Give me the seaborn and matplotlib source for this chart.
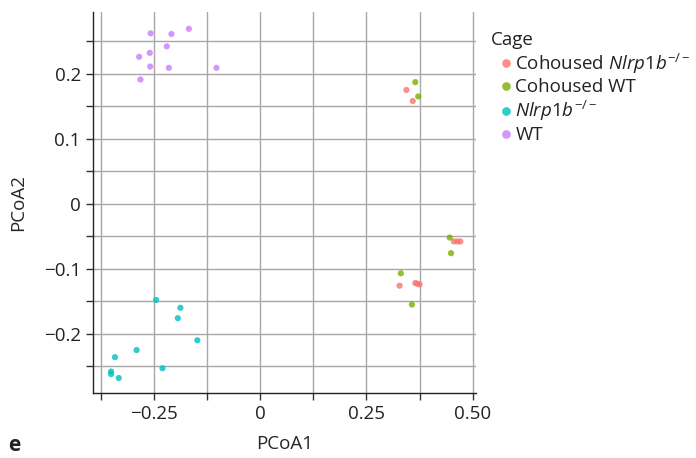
import numpy as np
import pandas as pd
import matplotlib
matplotlib.use("Agg")
import matplotlib.pyplot as plt
import seaborn as sns

# datos (PCoA)
wt_x = [-0.258, -0.209, -0.168, -0.220, -0.260, -0.285, -0.259, -0.215, -0.103, -0.282]
wt_y = [0.262, 0.261, 0.269, 0.242, 0.232, 0.226, 0.211, 0.209, 0.209, 0.191]

ko_x = [-0.245, -0.188, -0.194, -0.148, -0.291, -0.342, -0.351, -0.351, -0.333, -0.230]
ko_y = [-0.148, -0.160, -0.176, -0.210, -0.225, -0.236, -0.258, -0.262, -0.268, -0.253]

co_wt_x = [0.365, 0.372, 0.446, 0.449, 0.331, 0.357]
co_wt_y = [0.187, 0.165, -0.052, -0.076, -0.107, -0.155]

co_ko_x = [0.344, 0.359, 0.456, 0.464, 0.471, 0.328, 0.365, 0.370, 0.375]
co_ko_y = [0.175, 0.158, -0.058, -0.058, -0.058, -0.126, -0.122, -0.123, -0.124]

lab_co_ko = r"Cohoused $\mathit{Nlrp1b}^{\mathit{-/-}}$"
lab_co_wt = "Cohoused WT"
lab_ko = r"$\mathit{Nlrp1b}^{\mathit{-/-}}$"
lab_wt = "WT"
cage_order = [lab_co_ko, lab_co_wt, lab_ko, lab_wt]
colores = ["#F8766D", "#7CAE00", "#00BFC4", "#C77CFF"]

df = pd.concat([
    pd.DataFrame({"PCoA1": co_ko_x, "PCoA2": co_ko_y, "Cage": lab_co_ko}),
    pd.DataFrame({"PCoA1": co_wt_x, "PCoA2": co_wt_y, "Cage": lab_co_wt}),
    pd.DataFrame({"PCoA1": ko_x, "PCoA2": ko_y, "Cage": lab_ko}),
    pd.DataFrame({"PCoA1": wt_x, "PCoA2": wt_y, "Cage": lab_wt}),
])

# ===================================
# estilo
sns.set_theme(style="white")
plt.rcParams["font.family"] = ["Open Sans", "DejaVu Sans"]
plt.rcParams["mathtext.fontset"] = "custom"
plt.rcParams["mathtext.rm"] = "Open Sans"
plt.rcParams["mathtext.it"] = "Open Sans:italic"
plt.rcParams["text.color"] = "#222222"

fs = 13.5

fig = plt.figure(figsize=(6.96, 4.58), dpi=100)
ax = fig.add_axes([0.134, 0.142, 0.550, 0.832])

sns.scatterplot(data=df, x="PCoA1", y="PCoA2", hue="Cage", hue_order=cage_order,
                palette=colores, s=20, linewidth=0, alpha=0.8, ax=ax, zorder=3)

ax.set_xlim(-0.393, 0.508)
ax.set_ylim(-0.291, 0.295)

ax.set_xticks([-0.25, 0, 0.25, 0.5])
ax.set_xticklabels(["\u22120.25", "0", "0.25", "0.50"])
ax.set_xticks([-0.375, -0.125, 0.125, 0.375], minor=True)
ax.set_yticks([-0.2, -0.1, 0, 0.1, 0.2])
ax.set_yticklabels(["\u22120.2", "\u22120.1", "0", "0.1", "0.2"])
ax.set_yticks([-0.25, -0.15, -0.05, 0.05, 0.15, 0.25], minor=True)

ax.grid(True, which="both", color="#a8a8a8", linewidth=1.0, zorder=0)
ax.set_axisbelow(True)
ax.tick_params(which="both", direction="out", length=5, width=1, color="#333333",
               bottom=True, left=True, labelsize=fs, labelcolor="#222222", pad=4)

for lado in ["top", "right"]:
    ax.spines[lado].set_visible(False)
for lado in ["left", "bottom"]:
    ax.spines[lado].set_color("#222222")
    ax.spines[lado].set_linewidth(1.0)

ax.set_xlabel("PCoA1", fontsize=fs, labelpad=8)
ax.set_ylabel("PCoA2", fontsize=fs, labelpad=12)

sns.move_legend(ax, "upper left", bbox_to_anchor=(1.005, 0.985), frameon=False,
                title="Cage", fontsize=fs, title_fontsize=fs,
                labelspacing=0.15, handletextpad=-0.3, handlelength=1.6,
                borderpad=0.2, markerscale=1.4)
ax.get_legend()._legend_box.align = "left"

fig.text(0.012, 0.015, "e", fontsize=15, fontweight="bold")

fig.savefig("out.png", dpi=100)
